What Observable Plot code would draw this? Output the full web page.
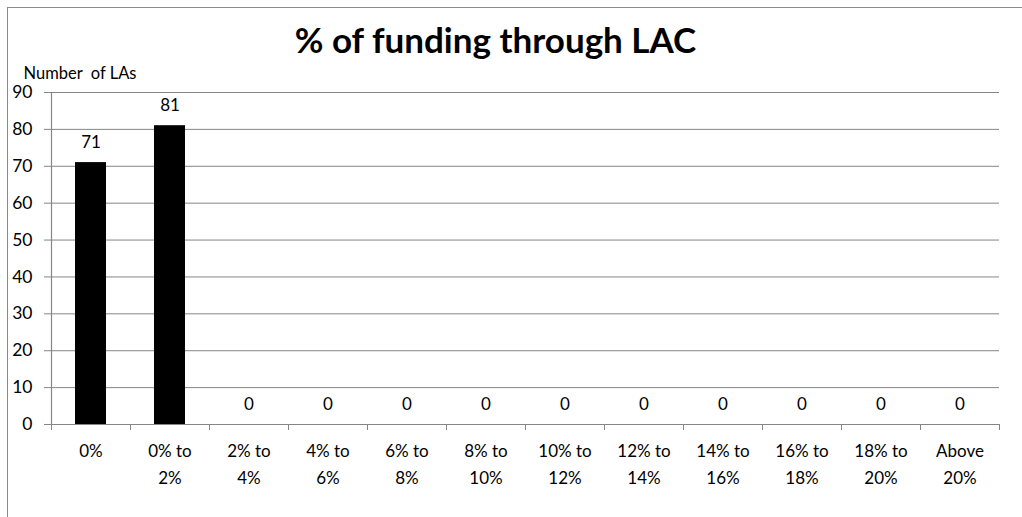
<!DOCTYPE html>
<html>
<head>
<meta charset="utf-8">
<script src="https://cdn.jsdelivr.net/npm/d3@7"></script>
<script src="https://cdn.jsdelivr.net/npm/@observablehq/plot@0.6"></script>
<style>
  html, body { margin: 0; padding: 0; background: #fff; }
  #wrap { position: relative; width: 1022px; height: 517px; overflow: hidden; }
  #border { position: absolute; left: 7px; top: 7px; width: 1040px; height: 540px; border: 1.5px solid #8a8a8a; box-sizing: border-box; pointer-events: none; }
</style>
</head>
<body>
<div id="wrap"><div id="border"></div></div>
<script>
const categories = ["0%", "0% to 2%", "2% to 4%", "4% to 6%", "6% to 8%", "8% to 10%", "10% to 12%", "12% to 14%", "14% to 16%", "16% to 18%", "18% to 20%", "Above 20%"];
const counts = [71, 81, 0, 0, 0, 0, 0, 0, 0, 0, 0, 0];
const yTicks = [0, 10, 20, 30, 40, 50, 60, 70, 80, 90];
const titleText = "% of funding through LAC";
const yLabelText = "Number  of LAs";

const data = categories.map((c, i) => ({category: c, count: counts[i]}));

const W = 1022, H = 517, ML = 51, MR = 23, MT = 92, MB = 93;
const step = (W - ML - MR) / categories.length;
const gray = "#868686";
const font = "Lato, 'Open Sans', sans-serif";

const chart = Plot.plot({
  width: W, height: H,
  marginLeft: ML, marginRight: MR, marginTop: MT, marginBottom: MB,
  style: {fontFamily: font, fontSize: "17px", color: "#000", background: "transparent"},
  x: {domain: categories, paddingInner: 0.61, paddingOuter: 0.305, axis: null, label: null},
  y: {domain: [0, 90], axis: null, label: null},
  marks: [
    Plot.gridY(yTicks, {stroke: gray, strokeOpacity: 1, strokeWidth: 1}),
    Plot.frame({anchor: "left", stroke: gray, strokeWidth: 1.2}),
    Plot.axisY(yTicks, {tickSize: 7, tickPadding: 12, stroke: gray, fill: "#000", fontSize: 17.5, label: null}),
    Plot.barY(data, {x: "category", y: "count", fill: "#000"}),
    Plot.text(data, {x: "category", y: "count", text: d => String(d.count), dy: -20, fontSize: 17, fill: "#000"}),
    Plot.ruleY([0], {stroke: gray, strokeWidth: 1.2}),
    Plot.axisX({tickSize: 6, tickFormat: () => "", dx: -step / 2, stroke: gray, label: null}),
    Plot.axisX([categories[categories.length - 1]], {tickSize: 6, tickFormat: () => "", dx: step / 2, stroke: gray, label: null}),
    Plot.axisX({tickSize: 0, tickPadding: 14, fontSize: 17, lineHeight: 1.55, fill: "#000", label: null,
      tickFormat: d => d.replace(" to ", " to\n").replace("Above ", "Above\n")}),
    Plot.text([titleText], {frameAnchor: "top", dx: -30, dy: -51, lineAnchor: "middle", fontSize: 35, fontWeight: "bold", fill: "#000"}),
    Plot.text([yLabelText], {frameAnchor: "top-left", textAnchor: "start", dx: -28, dy: -19, lineAnchor: "middle", fontSize: 16.5, fill: "#000"})
  ]
});
document.getElementById("wrap").appendChild(chart);
chart.style.position = "absolute";
chart.style.left = "0";
chart.style.top = "0";
</script>
</body>
</html>
